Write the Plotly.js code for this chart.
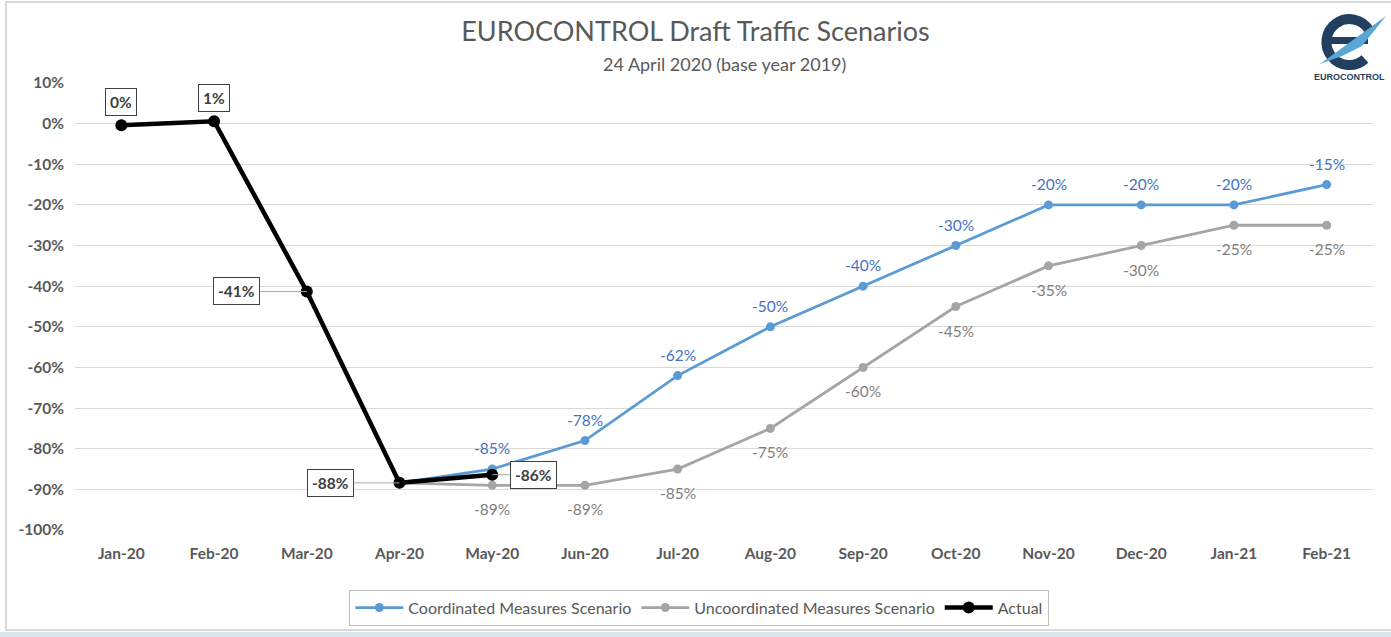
<!DOCTYPE html>
<html>
<head>
<meta charset="utf-8">
<script src="https://cdn.plot.ly/plotly-3.0.1.min.js"></script>
<style>
  html, body { margin: 0; padding: 0; background: #DCE6F1; }
  #wrap { position: absolute; left: 0; top: 0; width: 1391px; height: 632px; background: #fff; }
  #frame { position: absolute; left: 5px; top: 1px; width: 1388px; height: 630px; border: 2px solid #D9D9D9; border-right: none; box-sizing: border-box; pointer-events: none; }
  #chart { position: absolute; left: 0; top: 0; width: 1391px; height: 632px; }
  #logo { position: absolute; left: 1312px; top: 12px; width: 76px; height: 62px; }
</style>
</head>
<body>
<div id="wrap">
  <div id="chart"></div>
  <svg id="logo" viewBox="0 0 76 62">
    <path d="M57 18 A23 23 0 1 0 53 47" fill="none" stroke="#233F5F" stroke-width="10"/>
    <rect x="16" y="25" width="40" height="7" fill="#233F5F"/>
    <polygon points="8,52 74,4 50,34 30,44" fill="#5AA7D6"/>
  </svg>
  <div id="frame"></div>
</div>
<script>
const months = ['Jan-20','Feb-20','Mar-20','Apr-20','May-20','Jun-20','Jul-20','Aug-20','Sep-20','Oct-20','Nov-20','Dec-20','Jan-21','Feb-21'];
const coordMonths = months.slice(3);
const coordinated = [-88.4, -85, -78, -62, -50, -40, -30, -20, -20, -20, -15];
const uncoordinated = [-88.4, -89, -89, -85, -75, -60, -45, -35, -30, -25, -25];
const actualMonths = months.slice(0, 5);
const actual = [-0.4, 0.6, -41.3, -88.4, -86.4];
const yTicks = [10, 0, -10, -20, -30, -40, -50, -60, -70, -80, -90, -100];

const fontFam = 'Lato, "Open Sans", sans-serif';
const pct = v => Math.round(v) + '%';

const traces = [
  { x: coordMonths, y: coordinated, name: 'Coordinated Measures Scenario', type: 'scatter', mode: 'lines+markers',
    line: { color: '#5B9BD5', width: 2.8 }, marker: { color: '#5B9BD5', size: 9 }, hoverinfo: 'skip' },
  { x: coordMonths, y: uncoordinated, name: 'Uncoordinated Measures Scenario', type: 'scatter', mode: 'lines+markers',
    line: { color: '#A5A5A5', width: 2.8 }, marker: { color: '#A5A5A5', size: 9 }, hoverinfo: 'skip' },
  { x: actualMonths, y: actual, name: 'Actual', type: 'scatter', mode: 'lines+markers',
    line: { color: '#000000', width: 4.5 }, marker: { color: '#000000', size: 12 }, hoverinfo: 'skip' }
];

const annotations = [];
coordinated.forEach((v, i) => {
  if (i === 0) return;
  annotations.push({ x: coordMonths[i], y: v, xref: 'x', yref: 'y', text: pct(v), showarrow: false,
    yshift: 21, font: { family: fontFam, size: 15.5, color: '#4472C4' } });
});
uncoordinated.forEach((v, i) => {
  if (i === 0) return;
  annotations.push({ x: coordMonths[i], y: v, xref: 'x', yref: 'y', text: pct(v), showarrow: false,
    yshift: -24, font: { family: fontFam, size: 15.5, color: '#7F7F7F' } });
});
const actualOffsets = [[0, -23], [0, -23], [-70, 0], [-69, 0], [41, 0]];
actual.forEach((v, i) => {
  const hasLeader = i >= 2;
  annotations.push({ x: actualMonths[i], y: v, xref: 'x', yref: 'y', text: '<b>' + pct(v) + '</b>',
    showarrow: true, arrowhead: 0, arrowwidth: 1,
    arrowcolor: hasLeader ? '#A6A6A6' : 'rgba(0,0,0,0)',
    ax: actualOffsets[i][0], ay: actualOffsets[i][1],
    bgcolor: '#FFFFFF', bordercolor: '#404040', borderwidth: 1, borderpad: 4,
    font: { family: fontFam, size: 15.5, color: '#404040' } });
});
annotations.push({ xref: 'paper', yref: 'paper', x: 0.5, y: 1, yshift: 19, xanchor: 'center', yanchor: 'middle',
  text: '24 April 2020 (base year 2019)', showarrow: false, font: { family: fontFam, size: 18, color: '#595959' } });
annotations.push({ xref: 'paper', yref: 'paper', x: 1, xshift: -24, y: 1, yshift: 6, xanchor: 'center', yanchor: 'middle',
  text: '<b>EUROCONTROL</b>', showarrow: false, font: { family: 'Liberation Sans Narrow, Arial, sans-serif', size: 9, color: '#233F5F' } });

const layout = {
  width: 1391, height: 632,
  margin: { l: 75, r: 18, t: 83, b: 102 },
  paper_bgcolor: 'rgba(0,0,0,0)', plot_bgcolor: '#FFFFFF',
  title: { text: 'EUROCONTROL Draft Traffic Scenarios', x: 0.5, xanchor: 'center', y: 1, yref: 'container', yanchor: 'top', pad: { t: 22 },
    font: { family: fontFam, size: 27, color: '#595959' } },
  xaxis: { type: 'category', categoryarray: months, categoryorder: 'array', range: [-0.5, 13.5],
    showgrid: false, zeroline: false, showline: false, ticks: '',
    tickfont: { family: fontFam, size: 15.5, color: '#595959', weight: 'bold' }, ticklabelstandoff: 12 },
  yaxis: { range: [-100, 10], tickvals: yTicks, ticktext: yTicks.map(v => v + '%'),
    showgrid: true, gridcolor: '#D9D9D9', gridwidth: 1, zeroline: false, showline: false, ticks: '',
    tickfont: { family: fontFam, size: 15.5, color: '#595959', weight: 'bold' }, ticklabelstandoff: 10 },
  legend: { orientation: 'h', x: 0.481, xanchor: 'center', xref: 'paper', yref: 'container', y: 0.067, yanchor: 'top',
    bordercolor: '#BFBFBF', borderwidth: 1, bgcolor: '#FFFFFF',
    font: { family: fontFam, size: 16, color: '#595959' }, itemwidth: 48 },
  annotations: annotations,
  showlegend: true,
  hovermode: false
};

Plotly.newPlot('chart', traces, layout, { displayModeBar: false, staticPlot: true });
</script>
</body>
</html>
